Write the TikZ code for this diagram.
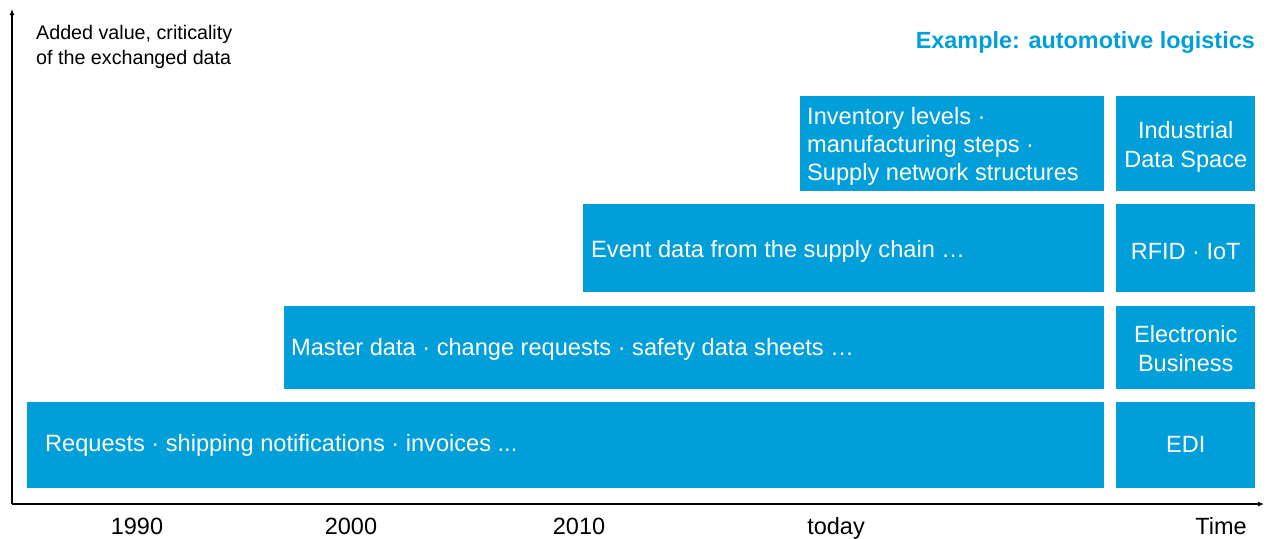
\documentclass[tikz,border=0pt]{standalone}
\usepackage{fontspec}
\setmainfont{Liberation Sans}
\usetikzlibrary{arrows.meta}
\definecolor{fblue}{HTML}{009FDA}
\tikzset{
  blk/.style={fill=fblue, draw=none, anchor=north west, inner sep=0pt},
  rowtext/.style={text=white, anchor=west, inner sep=0pt, font=\fontsize{23.6}{28.3}\selectfont, align=left},
  tagtext/.style={text=white, inner sep=0pt, font=\fontsize{23.5}{29}\selectfont, align=center},
  axis/.style={line width=1.2pt, -{Latex[length=6pt,width=5pt]}},
  ylab/.style={font=\fontsize{23.5}{28}\selectfont, anchor=base, inner sep=0pt}
}
\begin{document}
\begin{tikzpicture}[x=1pt,y=-1pt]
\useasboundingbox (0,0) rectangle (1273,538);
% axes
\coordinate (O) at (12,504);
\coordinate (ytop) at (12,9);
\coordinate (xend) at (1264,504);
\draw[axis] (O) -- (ytop);
\draw[axis] (O) -- (xend);
% rows
\node[blk, minimum width=1077pt, minimum height=86pt] (r1) at (27,402) {};
\node[blk, minimum width=820pt, minimum height=83pt] (r2) at (284,306) {};
\node[blk, minimum width=521pt, minimum height=88pt] (r3) at (583,204) {};
\node[blk, minimum width=304pt, minimum height=95pt] (r4) at (800,96) {};
\node[rowtext] (r1t) at ([xshift=18pt]r1.west) {Requests · shipping notifications · invoices ...};
\node[rowtext] (r2t) at ([xshift=7pt,yshift=-2pt]r2.west) {Master data · change requests · safety data sheets …};
\node[rowtext] (r3t) at ([xshift=8pt,yshift=-3.5pt]r3.west) {Event data from the supply chain …};
\node[rowtext] (r4t) at ([xshift=7pt,yshift=-2.5pt]r4.west) {Inventory levels ·\\manufacturing steps ·\\Supply network structures};
% tags
\node[blk, minimum width=139pt, minimum height=86pt] (t1) at (1116,402) {};
\node[blk, minimum width=139pt, minimum height=83pt] (t2) at (1116,306) {};
\node[blk, minimum width=139pt, minimum height=88pt] (t3) at (1116,204) {};
\node[blk, minimum width=139pt, minimum height=95pt] (t4) at (1116,96) {};
\node[tagtext] (t1t) at ([yshift=0.5pt]t1.center) {EDI};
\node[tagtext] (t2t) at ([yshift=-0.5pt]t2.center) {Electronic\\Business};
\node[tagtext] (t3t) at ([yshift=-3pt]t3.center) {RFID · IoT};
\node[tagtext] (t4t) at ([yshift=-3pt]t4.center) {Industrial\\Data Space};
% labels
\node[anchor=north west, align=left, inner sep=0pt, font=\fontsize{19.7}{25}\selectfont] (ylabel) at (36,25) {Added value, criticality\\of the exchanged data};
\node[anchor=base east, inner sep=0pt, text=fblue, font=\fontsize{23.4}{28}\selectfont\bfseries] (ex) at (1255,48) {Example: automotive logistics};
\node[ylab] (y1990) at (137,534) {1990};
\node[ylab] (y2000) at (351,534) {2000};
\node[ylab] (y2010) at (579,534) {2010};
\node[ylab] (ytoday) at (836,534) {today};
\node[ylab] (ytime) at (1221,534) {Time};
\end{tikzpicture}
\end{document}
